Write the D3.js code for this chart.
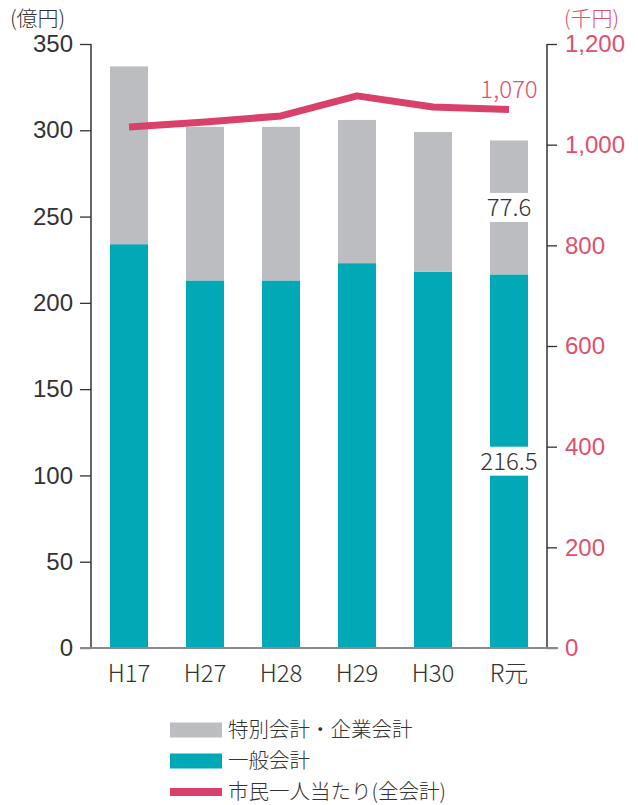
<!DOCTYPE html>
<html><head><meta charset="utf-8">
<script src="https://cdn.jsdelivr.net/npm/d3@7"></script>
<style>
html,body{margin:0;padding:0;background:#fff;}
svg{display:block;font-family:"Noto Sans CJK JP","Noto Sans",sans-serif;font-weight:300;}
</style></head>
<body><svg id="c" width="638" height="805"></svg>
<script>
const categories = ["H17","H27","H28","H29","H30","R元"];
const general = [234, 213, 213, 223, 218, 216.5];
const special = [103, 89, 89, 83, 81, 77.6];
const perCapita = [1035, 1045, 1057, 1097, 1075, 1070];
const leftTicks = [0,50,100,150,200,250,300,350];
const rightTicks = [0,200,400,600,800,1000,1200];
const legendLabels = ["特別会計・企業会計","一般会計","市民一人当たり(全会計)"];

const C_GRAY = "#bcbdc1", C_TEAL = "#00a9b5", C_PINK = "#d9416a", C_PINKTXT = "#e0506e";
const FS = 24;
const svg = d3.select("#c");
const L = 91, R = 547, T = 44, B = 648;

const x = d3.scaleBand().domain(categories).range([L, R]).paddingInner(0.5).paddingOuter(0.25);
const y = d3.scaleLinear().domain([0, 350]).range([B, T]);
const y2 = d3.scaleLinear().domain([0, 1200]).range([B, T]);

// bars
const rows = categories.map((c,i)=>({c, g: general[i], s: special[i]}));
svg.append("g").selectAll("rect.g").data(rows).join("rect")
  .attr("x", d=>x(d.c)).attr("width", x.bandwidth())
  .attr("y", d=>y(d.g)).attr("height", d=>y(0)-y(d.g)).attr("fill", C_TEAL);
svg.append("g").selectAll("rect.s").data(rows).join("rect")
  .attr("x", d=>x(d.c)).attr("width", x.bandwidth())
  .attr("y", d=>y(d.g+d.s)).attr("height", d=>y(d.g)-y(d.g+d.s)).attr("fill", C_GRAY);

// value labels on last bar
const last = rows[rows.length-1];
const labs = [
  {v: last.s, cy: (y(last.g)+y(last.g+last.s))/2},
  {v: last.g, cy: (y(0)+y(last.g))/2}
];
labs.forEach(l=>{
  const cx = x(last.c)+x.bandwidth()/2;
  const bg = svg.append("rect").attr("fill","#fff");
  const t = svg.append("text").attr("x", cx).attr("y", l.cy).attr("dy","0.36em")
    .attr("text-anchor","middle").attr("font-size",FS).attr("fill","#333").text(l.v);
  const bb = t.node().getBBox();
  const w = Math.max(bb.width+4, x.bandwidth());
  bg.attr("x", cx-w/2).attr("width", w).attr("y", l.cy-14.5).attr("height", 29);
});

// axes
const ax = svg.append("g").attr("transform",`translate(${L},0)`)
  .call(d3.axisLeft(y).tickValues(leftTicks).tickSize(11).tickPadding(7));
ax.select(".domain").remove();
ax.selectAll(".tick line").attr("stroke","#333").attr("stroke-width",1.3);
ax.selectAll(".tick text").attr("font-size",FS).attr("fill","#333").attr("font-family",null);
const ax2 = svg.append("g").attr("transform",`translate(${R},0)`)
  .call(d3.axisRight(y2).tickValues(rightTicks).tickSize(10).tickPadding(8).tickFormat(d3.format(",")));
ax2.select(".domain").remove();
ax2.selectAll(".tick line").attr("stroke","#333").attr("stroke-width",1.3);
ax2.selectAll(".tick text").attr("font-size",FS).attr("fill",C_PINKTXT).attr("font-family",null);

svg.append("line").attr("x1",L).attr("x2",L).attr("y1",T).attr("y2",B).attr("stroke","#333").attr("stroke-width",1.5);
svg.append("line").attr("x1",R).attr("x2",R).attr("y1",T).attr("y2",B).attr("stroke","#333").attr("stroke-width",1.5);
svg.append("line").attr("x1",L-11).attr("x2",R+11).attr("y1",B).attr("y2",B).attr("stroke","#8a8a8a").attr("stroke-width",2);

// x labels
svg.append("g").selectAll("text").data(categories).join("text")
  .attr("x", d=>x(d)+x.bandwidth()/2).attr("y", 682).attr("text-anchor","middle")
  .attr("font-size",FS).attr("fill","#333").text(d=>d);

// line
const pts = categories.map((c,i)=>[x(c)+x.bandwidth()/2, y2(perCapita[i])]);
svg.append("path").attr("d", d3.line()(pts)).attr("fill","none")
  .attr("stroke",C_PINK).attr("stroke-width",7).attr("stroke-linejoin","round");
const lp = pts[pts.length-1];
svg.append("text").attr("x", lp[0]).attr("y", lp[1]-11).attr("text-anchor","middle")
  .attr("font-size",FS).attr("fill",C_PINKTXT).text(d3.format(",")(perCapita[perCapita.length-1]));

// axis titles
svg.append("text").attr("x",10).attr("y",26).attr("font-size",21).attr("fill","#333").text("(億円)");
svg.append("text").attr("x",564).attr("y",26).attr("font-size",21).attr("fill",C_PINKTXT).text("(千円)");

// legend
const lg = svg.append("g");
const ly = [730, 761, 792];
lg.append("rect").attr("x",170).attr("y",ly[0]-7.5).attr("width",52).attr("height",15).attr("fill",C_GRAY);
lg.append("rect").attr("x",170).attr("y",ly[1]-7.5).attr("width",52).attr("height",15).attr("fill",C_TEAL);
lg.append("rect").attr("x",170).attr("y",ly[2]-4).attr("width",52).attr("height",8).attr("fill",C_PINK);
lg.selectAll("text").data(legendLabels).join("text")
  .attr("x",228).attr("y",(d,i)=>ly[i]).attr("dy","0.36em").attr("font-size",20.5).attr("fill","#333").text(d=>d);
</script></body></html>
